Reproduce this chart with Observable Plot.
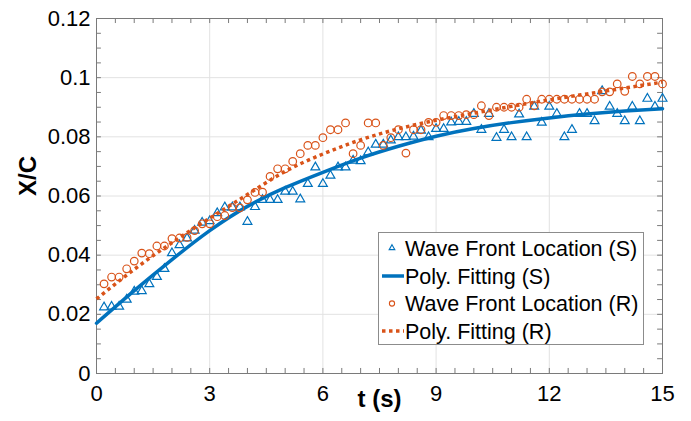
<!DOCTYPE html>
<html>
<head>
<meta charset="utf-8">
<script src="https://cdn.jsdelivr.net/npm/d3@7"></script>
<script src="https://cdn.jsdelivr.net/npm/@observablehq/plot@0.6"></script>
<style>
  html, body { margin: 0; padding: 0; background: #fff; }
  #chart { width: 691px; height: 421px; }
</style>
</head>
<body>
<div id="chart"></div>
<script>
// ---- data ----
const tValues = [0.2,0.4,0.6,0.8,1.0,1.2,1.4,1.6,1.8,2.0,2.2,2.4,2.6,2.8,3.0,3.2,3.4,3.6,3.8,4.0,
  4.2,4.4,4.6,4.8,5.0,5.2,5.4,5.6,5.8,6.0,6.2,6.4,6.6,6.8,7.0,7.2,7.4,7.6,7.8,8.0,
  8.2,8.4,8.6,8.8,9.0,9.2,9.4,9.6,9.8,10.0,10.2,10.4,10.6,10.8,11.0,11.2,11.4,11.6,11.8,12.0,
  12.2,12.4,12.6,12.8,13.0,13.2,13.4,13.6,13.8,14.0,14.2,14.4,14.6,14.8,15.0];
const waveS = [0.0224,0.0226,0.0226,0.0250,0.0277,0.0279,0.0302,0.0327,0.0354,0.0407,0.0434,0.0457,0.0483,0.0510,0.0515,0.0542,0.0562,0.0562,0.0562,0.0513,
  0.0563,0.0587,0.0587,0.0587,0.0615,0.0615,0.0589,0.0641,0.0697,0.0641,0.0669,0.0697,0.0697,0.0720,0.0718,0.0748,0.0774,0.0774,0.0788,0.0799,
  0.0799,0.0801,0.0821,0.0799,0.0827,0.0827,0.0849,0.0851,0.0851,0.0878,0.0824,0.0878,0.0797,0.0824,0.0799,0.0876,0.0799,0.0902,0.0848,0.0902,
  0.0878,0.0799,0.0824,0.0878,0.0878,0.0853,0.0955,0.0902,0.0878,0.0853,0.0902,0.0853,0.0929,0.0902,0.0929];
const waveR = [0.0303,0.0326,0.0326,0.0354,0.0380,0.0407,0.0405,0.0431,0.0431,0.0456,0.0458,0.0460,0.0483,0.0506,0.0506,0.0530,0.0534,0.0561,0.0560,0.0587,
  0.0612,0.0613,0.0666,0.0692,0.0692,0.0717,0.0743,0.0771,0.0771,0.0797,0.0824,0.0824,0.0847,0.0743,0.0771,0.0847,0.0847,0.0771,0.0797,0.0824,
  0.0745,0.0824,0.0824,0.0849,0.0849,0.0872,0.0872,0.0872,0.0875,0.0875,0.0905,0.0872,0.0900,0.0900,0.0900,0.0900,0.0927,0.0905,0.0927,0.0927,
  0.0927,0.0927,0.0927,0.0927,0.0927,0.0927,0.0952,0.0952,0.0979,0.0954,0.1004,0.0979,0.1004,0.1004,0.0979];
const fitT = [0,1,2,3,4,5,6,7,8,9,10,11,12,13,14,15];
const fitS = [0.0170,0.0280,0.0385,0.0483,0.0565,0.0628,0.0680,0.0728,0.0768,0.0802,0.0828,0.0848,0.0864,0.0877,0.0887,0.0895];
const fitR = [0.0252,0.0352,0.0442,0.0525,0.0605,0.0683,0.0742,0.0790,0.0827,0.0856,0.0880,0.0903,0.0925,0.0945,0.0965,0.0985];
const xTicks = [0,3,6,9,12,15];
const xTickLabels = ["0","3","6","9","12","15"];
const yTicks = [0,0.02,0.04,0.06,0.08,0.1,0.12];
const yTickLabels = ["0","0.02","0.04","0.06","0.08","0.1","0.12"];
const xMinor = [0,0.5,1,1.5,2,2.5,3,3.5,4,4.5,5,5.5,6,6.5,7,7.5,8,8.5,9,9.5,10,10.5,11,11.5,12,12.5,13,13.5,14,14.5,15];
const yMinor = [0,0.005,0.01,0.015,0.02,0.025,0.03,0.035,0.04,0.045,0.05,0.055,0.06,0.065,0.07,0.075,0.08,0.085,0.09,0.095,0.1,0.105,0.11,0.115,0.12];
const legendLabels = ["Wave Front Location (S)","Poly. Fitting (S)","Wave Front Location (R)","Poly. Fitting (R)"];
const blue = "#0072BD", orange = "#D95319";

const pts = tValues.map((t,i) => ({t, s: waveS[i], r: waveR[i]}));
const fits = fitT.map((t,i) => ({t, s: fitS[i], r: fitR[i]}));

const chart = Plot.plot({
  width: 691, height: 421,
  marginLeft: 96, marginRight: 29, marginTop: 18, marginBottom: 48,
  style: {fontFamily: "'Liberation Sans', Arial, sans-serif", background: "#fff", color: "#000"},
  x: {domain: [0,15]},
  y: {domain: [0,0.12]},
  marks: [
    Plot.gridX(xTicks, {stroke: "#e2e2e2", strokeOpacity: 1}),
    Plot.gridY(yTicks, {stroke: "#e2e2e2", strokeOpacity: 1}),
    Plot.ruleY(yMinor, {y: d => d, x1: 0, x2: 0.13, stroke: "#7a7a7a"}),
    Plot.ruleY(yMinor, {y: d => d, x1: 14.87, x2: 15, stroke: "#7a7a7a"}),
    Plot.ruleX(xMinor, {x: d => d, y1: 0, y2: 0.0017, stroke: "#7a7a7a"}),
    Plot.ruleX(xMinor, {x: d => d, y1: 0.1183, y2: 0.12, stroke: "#7a7a7a"}),
    Plot.frame({stroke: "#7a7a7a"}),
    Plot.axisX(xTicks, {tickSize: 0, tickPadding: 12, fontSize: 22, tickFormat: (d,i) => xTickLabels[i], label: null}),
    Plot.axisY(yTicks, {tickSize: 0, tickPadding: 6, fontSize: 22, tickFormat: (d,i) => yTickLabels[i], label: null}),
    Plot.dot(pts, {x: "t", y: "s", symbol: "triangle", r: 3.3, stroke: blue, strokeWidth: 1.2, fill: "none"}),
    Plot.line(fits, {x: "t", y: "s", curve: "natural", stroke: blue, strokeWidth: 3.5}),
    Plot.dot(pts, {x: "t", y: "r", symbol: "circle", r: 3.8, stroke: orange, strokeWidth: 1.2, fill: "none"}),
    Plot.line(fits, {x: "t", y: "r", curve: "natural", stroke: orange, strokeWidth: 3.5, strokeDasharray: "3.5,3.5", strokeLinecap: "butt"}),
    Plot.text(["t (s)"], {frameAnchor: "bottom", dy: 33, fontSize: 24, fontWeight: "bold", text: d => d}),
    Plot.text(["X/C"], {frameAnchor: "left", dx: -68, rotate: -90, fontSize: 24, fontWeight: "bold", text: d => d})
  ]
});
document.getElementById("chart").appendChild(chart);

// legend (inside the plot, lower right)
const svg = d3.select(chart);
const lg = svg.append("g").attr("font-family", "'Liberation Sans', Arial, sans-serif").attr("font-size", 21.5).attr("text-anchor", "start");
lg.append("rect").attr("x", 378.5).attr("y", 232.5).attr("width", 265).attr("height", 112)
  .attr("fill", "#fff").attr("stroke", "#8c8c8c").attr("stroke-width", 1);
const rowsY = [248, 276, 303.5, 331];
lg.append("path").attr("d", d3.symbol(d3.symbolTriangle, 14)()).attr("transform", `translate(392,${rowsY[0]})`)
  .attr("fill", "none").attr("stroke", blue).attr("stroke-width", 1.1);
lg.append("line").attr("x1", 382).attr("x2", 404).attr("y1", rowsY[1]).attr("y2", rowsY[1]).attr("stroke", blue).attr("stroke-width", 3.5);
lg.append("circle").attr("cx", 392).attr("cy", rowsY[2]).attr("r", 2.6).attr("fill", "none").attr("stroke", orange).attr("stroke-width", 1.1);
lg.append("line").attr("x1", 382).attr("x2", 404).attr("y1", rowsY[3]).attr("y2", rowsY[3]).attr("stroke", orange).attr("stroke-width", 3.5).attr("stroke-dasharray", "3.5,3.5");
legendLabels.forEach((s, i) => {
  lg.append("text").attr("x", 405).attr("y", rowsY[i]).attr("dy", "0.35em").attr("text-anchor", "start").attr("fill", "#000").text(s);
});
</script>
</body>
</html>
